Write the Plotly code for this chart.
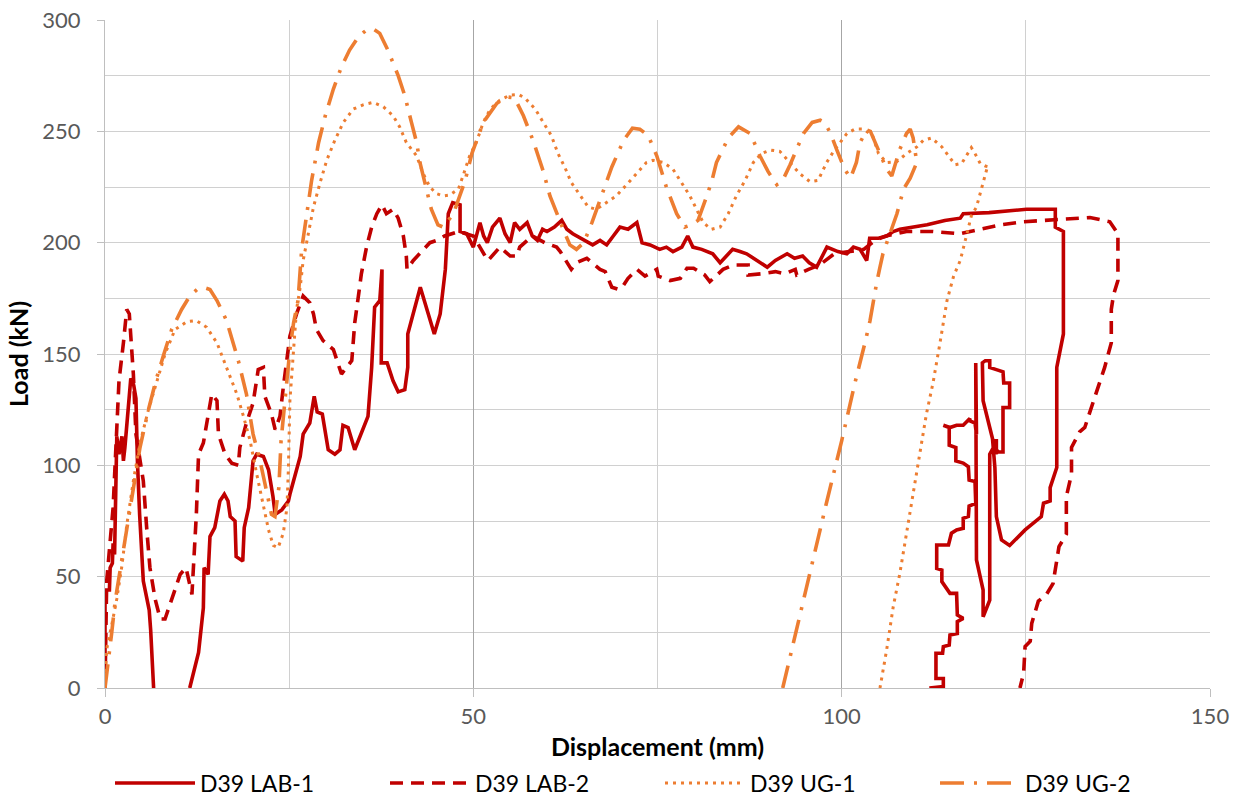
import plotly.graph_objects as go

# ---------------- data (displacement mm, load kN) ----------------
lab1_x = [0, 0, 0.6, 0.7, 1.0, 1.1, 1.3, 1.6, 1.9, 2.3, 2.5, 2.7, 3.5, 3.9, 4.2, 4.4, 4.7, 5.2, 6.0, 6.2, 6.6,
          None,
          11.5, 12.7, 13.35, 13.45, 14.0, 14.25, 14.9, 15.6, 16.2, 16.7, 17.0, 17.65, 17.8, 18.7, 18.9, 19.5,
          20.1, 20.6, 21.5, 22.2, 22.8, 23.1, 24.0, 24.9, 25.1, 26.5, 26.9, 27.8, 28.4, 28.8, 29.5, 30.3,
          31.2, 31.9, 32.3, 33.0, 33.9, 35.7, 36.2, 36.6, 37.3, 37.6, 37.5, 38.3, 39.1, 39.8, 40.7, 41.1,
          41.1, 42.8, 44.7, 45.5, 46.2, 46.4, 46.6, 47.2, 48.2, 48.2, 49.1, 50.0, 50.9, 51.4, 51.9, 52.6,
          53.6, 54.3, 55.0, 55.6, 56.3, 57.3, 58.0, 58.7, 59.4, 60.0, 61.0, 62.0, 62.7, 63.5, 65.0, 66.2,
          67.2, 68.1, 69.0, 69.9, 71.0, 72.2, 72.9, 74.0, 75.3, 76.2, 77.1, 78.3, 79.1, 79.8, 81.0, 82.5,
          83.5, 84.3, 85.2, 86.2, 87.1, 88.5, 89.9, 91.0, 92.6, 93.6, 94.7, 95.6, 96.6, 98.0, 99.5, 100.7,
          101.6, 102.5, 103.4, 103.8, 105.0, 106.1, 107.0, 107.9, 110.0, 111.6, 114.0, 116.1, 116.5, 120.0,
          125.1, 129.0, 129.0, 130.1, 130.1, 130.1, 129.2, 129.2, 128.3, 128.3, 127.4, 127.1, 124.9, 122.8,
          121.7, 121.0, 120.8, 120.5, 121.0, 121.0, 120.1, 119.2, 119.1, 119.5, 120.1, 120.1, 121.0, 121.9,
          122.0, 122.8, 122.8, 121.9, 121.9, 121.3, 120.6, 120.1, 120.1, 119.2, 119.2, 118.3, 118.2, 118.3,
          118.1, 117.4, 117.4, 116.5, 115.6, 114.7, 113.8, 114.6, 114.6, 115.5, 115.5, 116.5, 117.2, 117.3,
          118.1, 118.2, 117.3, 117.2, 116.5, 116.5, 115.6, 114.9, 114.5, 112.9, 112.9, 113.6, 113.6, 114.7,
          115.6, 115.7, 116.5, 115.7, 115.7, 114.7, 114.6, 113.8, 113.7, 112.8, 112.8, 113.8, 113.8, 112.9,
          111.9]
lab1_y = [0, 44, 44, 54, 56, 65, 60, 113, 105, 113, 102, 108, 139, 136, 130, 102, 78, 48, 35, 26, 0,
          None,
          0, 16, 36, 54, 51, 68, 72, 84, 87, 84, 77, 75, 59, 57, 72, 81,
          102, 105, 104, 98, 86, 78, 80, 84, 87, 104, 114, 119, 131, 124, 123, 107,
          105, 107, 118, 117, 107, 122, 144, 171, 174, 188, 146, 146, 138, 133, 134, 144,
          159, 180, 159, 168, 188, 202, 213, 218, 217, 205, 204, 198, 209, 203, 200, 207,
          211, 204, 200, 209, 206, 209, 203, 201, 206, 205, 207, 210, 206, 204, 201, 199,
          201, 199, 203, 207, 206, 209, 200, 199, 197, 198, 196, 198, 203, 198, 197, 195,
          191, 194, 197, 196, 195, 192, 189, 192, 195, 193, 194, 191, 189, 198, 196, 195,
          198, 197, 192, 202, 202, 203, 205, 206, 207, 208, 210, 211, 213, 213.5,
          215, 215, 207, 205, 174, 159, 144, 99, 90, 84, 83, 77, 71, 64,
          66.5, 77, 99, 111, 111, 105, 117, 129, 146, 147, 147, 144, 143, 142,
          137, 137, 126, 126, 106, 106, 108, 105, 39.5, 32, 44, 57.5, 146, 114,
          119, 120, 121, 118, 118, 117, 118, 117, 109, 108, 102, 101, 99.4, 93.4,
          92.7, 82.9, 81.7, 77, 76.2, 71.7, 71, 69.5, 64.2, 64.2, 53.7, 53, 47.8, 42.5,
          42.5, 32.8, 31.3, 29.8, 24.5, 23.8, 19.3, 18.6, 15.6, 15.6, 4.3, 4.3, 0.6, 0.3,
          0]

lab2_x = [0, 0.23, 1.1, 1.9, 2.5, 2.95, 3.3, 3.85, 4.2, 5.2, 5.7, 6.1, 6.8, 7.5, 8.15, 9.05, 10.2, 11.0,
          11.8, 12.4, 12.7, 13.35, 14.5, 15.2, 15.4, 16.3, 17.2, 18.1, 18.3, 19.2, 20.1, 20.8, 21.5, 21.7,
          22.6, 23.1, 23.75, 24.2, 25.1, 26.0, 26.9, 27.8, 28.3, 28.7, 29.6, 31.0, 32.1, 33.5, 33.9, 34.4,
          34.8, 35.5, 36.2, 36.9, 37.6, 38.2, 39.1, 39.8, 40.5, 40.9, 41.0, 41.85, 42.75, 44.1, 45.0, 46.1,
          48.0, 50.0, 51.6, 52.0, 53.6, 55.0, 55.9, 56.3, 58.0, 59.7, 61.3, 61.8, 63.3, 64.0, 65.4, 66.1,
          67.2, 67.9, 68.8, 69.7, 70.4, 71.0, 72.2, 73.3, 74.9, 75.1, 76.7, 78.1, 79.0, 79.9, 81.4, 82.1,
          83.3, 83.9, 85.3, 87.3, 87.3, 89.0, 91.0, 92.3, 93.7, 93.9, 95.5, 97.0, 99.0, 101.0, 103.0, 104.5,
          106.0, 108.8, 112.4, 116.0, 119.2, 121.5, 124.6, 127.8, 130.5, 133.7, 136.4, 137.5, 137.5, 136.9,
          136.6, 136.6, 135.7, 134.8, 133.9, 133.0, 132.3, 131.2, 131.2, 130.5, 130.5, 129.5, 128.7, 127.8,
          126.7, 125.8, 125.6, 124.9, 124.7, 124.2]
lab2_y = [0, 48, 81, 138, 155, 170, 168, 141, 114, 93, 70, 54, 40, 31, 31, 40, 51, 54,
          42, 78, 105, 110, 132, 129, 114, 105, 101, 100, 108, 119, 128, 143, 144, 131,
          123, 116, 122, 135, 158, 168, 176, 173, 168, 161, 156, 152, 141, 147, 164, 176,
          186, 198, 207, 213, 217, 213, 215, 211, 203, 194, 188, 192, 195, 200, 201, 203,
          205, 203, 194, 192, 198, 194, 194, 198, 203, 200, 198, 196, 188, 191, 193, 191,
          188, 187, 180, 179, 181, 184, 188, 185, 188, 185, 183, 184, 188.5, 188.5, 185.5, 182.5,
          186, 188, 190, 190, 185.5, 186, 187, 186, 188, 185.5, 188, 190, 195, 196, 197, 201,
          203, 205, 205, 204, 206.4, 208, 209.4, 210, 210.4, 211.3, 209.4, 204, 183, 176.5,
          170, 155, 144, 135, 126, 117, 115, 108, 96, 86, 69, 63.5, 47, 42,
          39, 29, 21, 18.6, 6.6, 0]

ug1_x = [0, 0.2, 0.9, 1.6, 2.3, 2.95, 3.85, 4.75, 5.9, 7.0, 8.15, 9.5, 11.1, 12.4, 13.8, 15.2, 16.5, 17.9,
         18.8, 19.7, 20.6, 21.5, 22.2, 22.85, 23.5, 24.2, 24.7, 24.9, 25.1, 25.6, 26.0, 26.5, 26.9, 27.6,
         28.3, 29.2, 30.1, 31.2, 32.35, 33.7, 35.1, 36.4, 37.8, 39.1, 40.0, 40.9, 42.3, 43.2, 44.1, 45.0,
         45.9, 46.8, 47.96, 48.6, 49.5, 50.4, 51.35, 52.3, 53.6, 55.0, 56.1, 57.0, 58.4, 59.5, 60.6, 61.5,
         62.4, 63.3, 64.5, 65.6, 66.7, 68.1, 69.4, 70.8, 72.2, 73.5, 74.4, 75.8, 77.1, 78.3, 79.4, 80.3,
         81.2, 82.3, 83.5, 84.6, 85.7, 86.9, 88.0, 89.1, 90.3, 91.6, 93.0, 94.3, 95.7, 96.8, 97.96, 98.9,
         99.8, 100.7, 101.8, 103.0, 104.2, 105.0, 106.1, 107.5, 108.8, 110.2, 111.1, 112.2, 113.6, 114.5,
         115.4, 116.3, 117.0, 117.6, 118.1, 118.8, 119.5, 120.0, 119.7, 119.0, 118.3, 117.6, 117.0, 116.1,
         115.2, 114.5, 114.3, 113.35, 112.4, 111.5, 110.6, 109.7, 108.8, 107.9, 107.0, 106.1, 105.2]
ug1_y = [0, 17, 28, 40, 55, 73, 93, 110, 125, 137, 150, 161, 164.5, 165, 162, 155, 144, 132,
         122, 111, 96, 81, 71, 64, 63, 69.5, 81, 99, 129, 152, 170, 180, 192, 204,
         216, 227, 237, 246, 254, 260, 262, 263, 261, 257, 252, 245, 239, 231, 225, 222,
         221, 221.4, 224, 230, 239, 245, 254, 260, 264, 266.3, 266.6, 265, 260, 254, 248, 240,
         234, 227, 221, 216, 215, 218, 221, 226, 231, 236, 237, 236, 233, 227, 221, 215,
         209, 206, 207, 213, 221, 228, 236, 240, 241.6, 241, 236, 231, 227.4, 228, 236, 241,
         245, 249, 251, 251, 248, 240, 236, 236.4, 240, 243, 246, 247, 243, 239,
         235, 235.6, 239.4, 242.7, 240, 235.6, 234.4, 234, 233, 224, 216, 212, 204, 192,
         185, 176, 174, 155, 137, 123, 105, 87, 69.5, 51.5, 36.5, 17, 0]

ug2_x = [0, 0.2, 0.9, 1.4, 2.3, 3.1, 3.85, 4.75, 5.9, 6.9, 7.9, 9.05, 10.4, 11.5, 12.5, 13.35, 14.25, 15.2,
         16.5, 18.1, 19.2, 20.1, 21.05, 21.95, 22.6, 23.07, 23.6, 23.9, 24.4, 25.1, 25.6, 26.2, 26.7, 27.4,
         28.05, 29.0, 29.9, 31.0, 32.1, 33.2, 34.4, 35.5, 36.4, 37.3, 38.4, 39.8, 40.7, 41.6, 42.3, 42.75,
         43.7, 44.3, 45.2, 45.9, 47.3, 48.9, 49.8, 51.35, 53.2, 54.5, 55.6, 56.8, 58.1, 58.8, 59.5, 60.4,
         61.3, 62.2, 63.1, 64.0, 65.0, 66.1, 67.4, 68.8, 70.4, 71.6, 72.6, 73.75, 74.9, 76.2, 77.6, 78.7,
         79.6, 80.5, 81.7, 82.4, 83.0, 84.6, 86.0, 87.6, 88.9, 90.0, 91.2, 92.0, 93.0, 93.9, 94.8, 96.0,
         97.1, 97.7, 98.5, 99.3, 100.4, 101.2, 102.0, 102.5, 103.4, 103.9, 105.0, 106.1, 106.8, 107.9,
         108.8, 109.3, 109.7, 110.2, 109.3, 108.4, 107.5, 106.5, 105.6, 105.2, 104.75, 103.85, 103.2,
         101.8, 100.0, 98.0, 96.0, 94.0, 92.0]
ug2_y = [0, 5, 24.5, 39.5, 57.5, 75, 90, 108, 125, 138, 149, 161, 170, 176, 179, 180, 179, 174,
         165, 147, 132, 114, 102, 87, 78, 77, 90, 111, 129, 152, 164, 174, 197, 213,
         228, 245, 257, 269, 279, 286.5, 292.5, 295.5, 296, 294, 286.5, 275, 266, 254, 245, 236,
         223, 215, 208, 207, 213, 228, 240, 254, 262.6, 265.5, 265, 257, 246, 239, 232, 221,
         213, 206, 199, 197, 200, 209, 221, 234, 246, 251.4, 251, 248, 239, 225, 213, 207,
         208, 210, 221, 228, 236, 247, 252, 249, 239, 232, 226, 228, 235, 241.6, 249, 254,
         255, 254, 249, 242, 233, 229, 236, 245, 250.6, 250, 241, 233, 230, 242,
         249, 251, 247, 236, 229, 224, 213, 203, 195, 189, 182, 165, 155.5,
         137, 111, 84, 56, 28, 0]

series_names = ["D39 LAB-1", "D39 LAB-2", "D39 UG-1", "D39 UG-2"]
x_ticks = [0, 50, 100, 150]
y_ticks = [0, 50, 100, 150, 200, 250, 300]

# ---------------- styling ----------------
RED = "#C00000"
ORANGE = "#ED7D31"
FONT = "Lato"

fig = go.Figure()
fig.add_trace(go.Scatter(x=lab1_x, y=lab1_y, mode="lines", name=series_names[0],
                         line=dict(color=RED, width=3.6), connectgaps=False))
fig.add_trace(go.Scatter(x=lab2_x, y=lab2_y, mode="lines", name=series_names[1],
                         line=dict(color=RED, width=3.6, dash="13px,8px")))
fig.add_trace(go.Scatter(x=ug1_x, y=ug1_y, mode="lines", name=series_names[2],
                         line=dict(color=ORANGE, width=3.0, dash="3px,5px")))
fig.add_trace(go.Scatter(x=ug2_x, y=ug2_y, mode="lines", name=series_names[3],
                         line=dict(color=ORANGE, width=3.6, dash="24px,10px,3px,10px")))

fig.update_layout(
    width=1238, height=801,
    margin=dict(l=105, r=28, t=20, b=113),
    paper_bgcolor="white", plot_bgcolor="white",
    font=dict(family=FONT, size=22, color="#595959"),
    showlegend=True,
    legend=dict(orientation="h", xref="container", x=110 / 1238, xanchor="left",
                yref="container", y=1 - 783 / 801, yanchor="middle",
                font=dict(family=FONT, size=23, color="#000000"),
                itemwidth=80, entrywidth=180, entrywidthmode="pixels",
                bgcolor="rgba(0,0,0,0)"),
)

fig.update_xaxes(
    range=[0, 150], tickvals=x_ticks, ticktext=[str(v) for v in x_ticks],
    automargin=False,
    showgrid=True, gridcolor="#A6A6A6", gridwidth=1,
    minor=dict(dtick=25, tick0=0, showgrid=True, gridcolor="#D0D0D0", gridwidth=1),
    showline=True, linecolor="#BFBFBF", linewidth=1.3,
    ticks="outside", ticklen=8, tickcolor="#BFBFBF",
    tickfont=dict(family=FONT, size=22, color="#595959"),
    zeroline=False,
    title=dict(text="<b>Displacement (mm)</b>", standoff=35,
               font=dict(family=FONT, size=25, color="#000000")),
)
fig.update_yaxes(
    range=[0, 300], tickvals=y_ticks, ticktext=[str(v) for v in y_ticks],
    automargin=False,
    showgrid=True, gridcolor="#D0D0D0", gridwidth=1.3,
    minor=dict(dtick=25, tick0=0, showgrid=True, gridcolor="#D0D0D0", gridwidth=1),
    showline=True, linecolor="#BFBFBF", linewidth=1.3,
    ticks="outside", ticklen=7, tickcolor="#BFBFBF",
    tickfont=dict(family=FONT, size=22, color="#595959"),
    ticklabelstandoff=12,
    zeroline=False,
    title=dict(text="<b>Load (kN)</b>", standoff=6,
               font=dict(family=FONT, size=25, color="#000000")),
)

fig.write_html("out.html")
